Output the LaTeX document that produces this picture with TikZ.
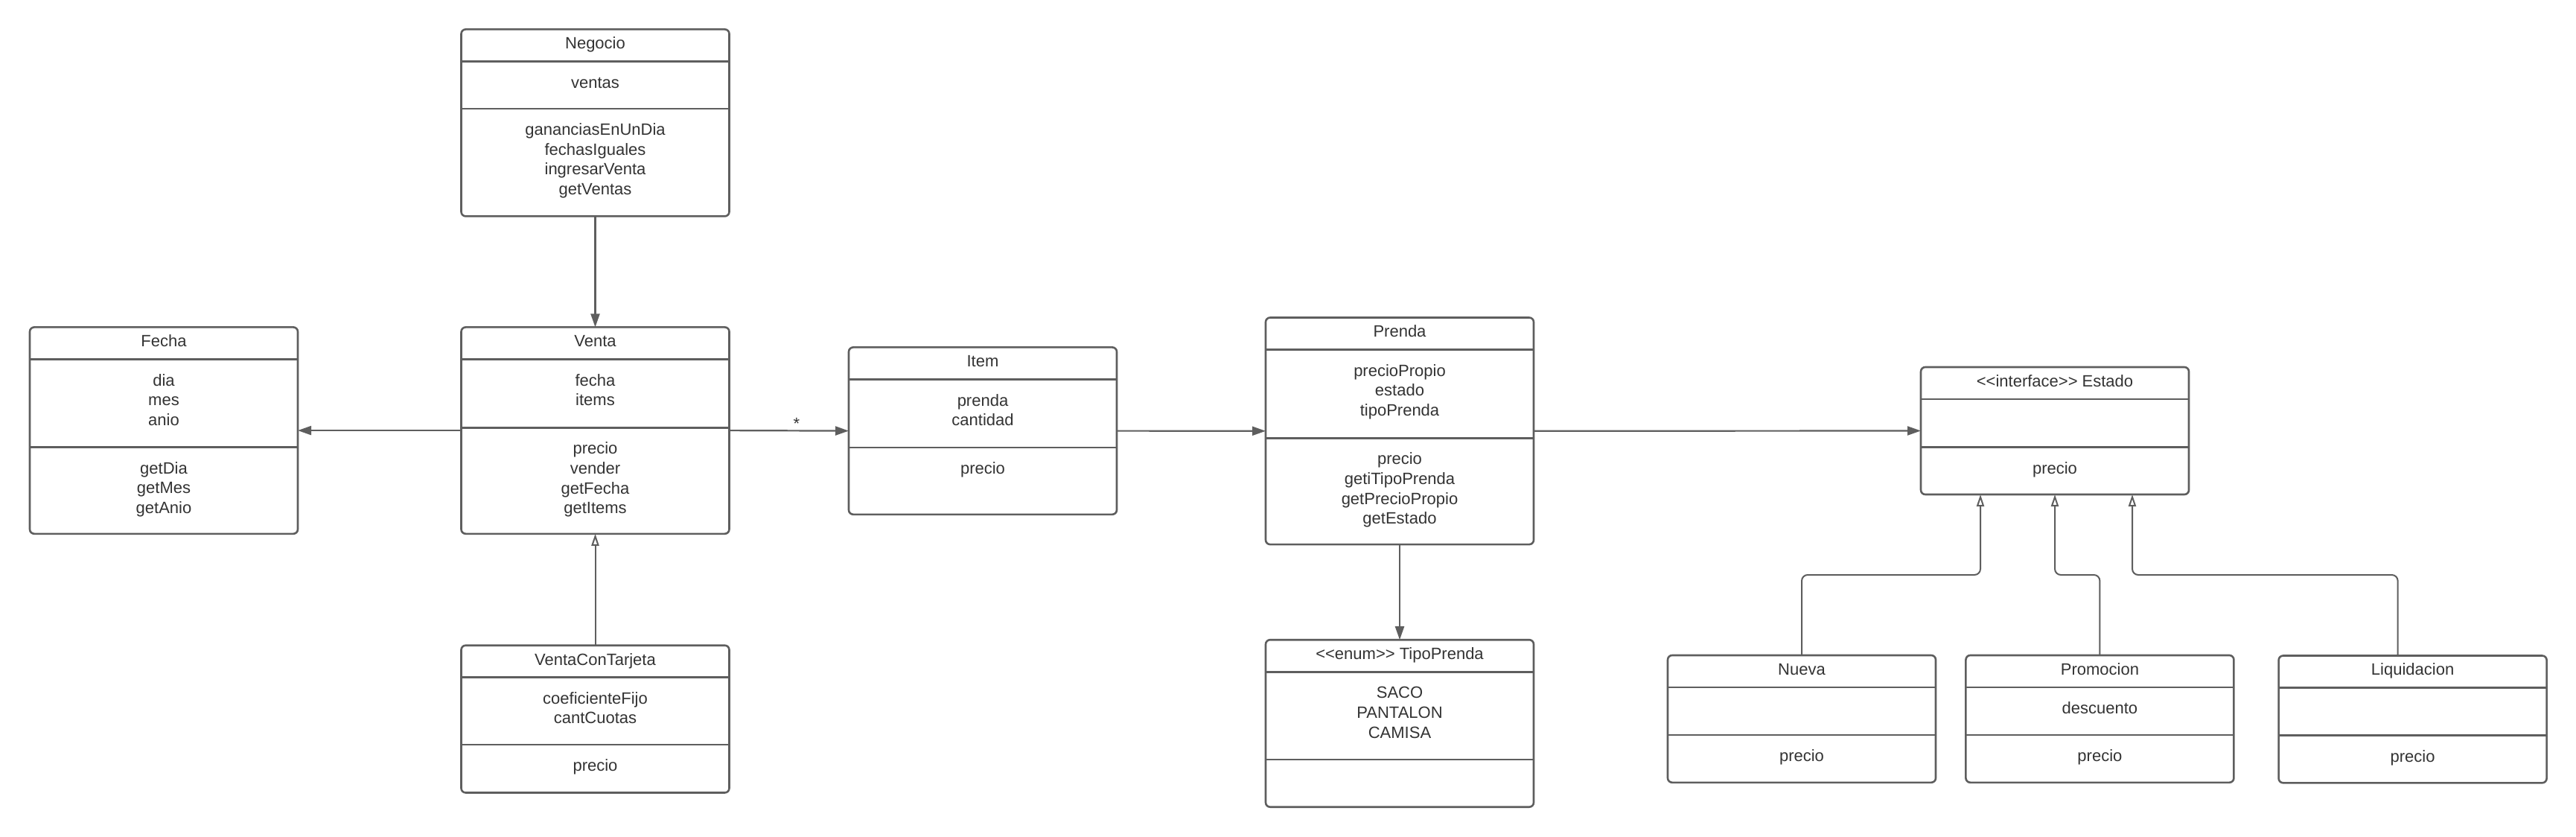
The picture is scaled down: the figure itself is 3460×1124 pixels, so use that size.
\documentclass[tikz,border=0pt]{standalone}
\usepackage{fontspec}
\setmainfont{Liberation Sans}
\usetikzlibrary{arrows.meta}
\definecolor{linegray}{HTML}{5E5E5E}
\definecolor{textgray}{HTML}{333333}
\tikzset{
classbox/.style={
	draw=linegray, line width=1.3pt, rounded corners=3pt,
	minimum width=180pt, outer sep=0pt, inner sep=0pt},
classline/.style={draw=linegray, line width=1.3pt},
classtext/.style={
	text=textgray, align=center, inner sep=0pt,
	font=\fontsize{11}{13.3}\selectfont},
assoc/.style={draw=linegray, line width=1.1pt,
	-{Triangle[length=9pt,width=6pt]}},
realize/.style={draw=linegray, line width=1pt, rounded corners=4pt,
	-{Triangle[open,length=8pt,width=5pt,fill=white]}}
}
% name, left, top, attribute height, total height, title, attributes, operations
\newcommand{\umlclass}[8]{%
	\node[classbox, minimum height=#5*0.5pt, anchor=north west] (#1) at (#2,-#3) {};
	\draw[classline] ([yshift=-21.5pt]#1.north west) -- ([yshift=-21.5pt]#1.north east);
	\draw[classline] ([yshift=-21.5pt-#4*0.5pt]#1.north west) -- ([yshift=-21.5pt-#4*0.5pt]#1.north east);
	\node[classtext, anchor=base] (#1-title) at ([yshift=-13.2pt]#1.north) {#6};
	\node[classtext, anchor=north] (#1-attrs) at ([yshift=-29.8pt]#1.north) {\strut#7};
	\node[classtext, anchor=north] (#1-ops) at ([yshift=-29.8pt-#4*0.5pt]#1.north) {\strut#8};
}
\newcommand{\guil}[1]{<\kern0pt<#1>\kern0pt>}

\begin{document}
\begin{tikzpicture}[x=0.5pt, y=0.5pt]
	\path[fill=white, use as bounding box] (0,0) rectangle (3460,-1124);

	\umlclass{negocio}{619.5}{39.4}{63.6}{251}{Negocio}{ventas}
		{gananciasEnUnDia\\fechasIguales\\ingresarVenta\\getVentas}
	\umlclass{fecha}{40}{439.4}{118.3}{277.4}{Fecha}{dia\\mes\\anio}
		{getDia\\getMes\\getAnio}
	\umlclass{venta}{619.5}{439.4}{91.8}{277.4}{Venta}{fecha\\items}
		{precio\\vender\\getFecha\\getItems}
	\umlclass{tarjeta}{619.5}{866.7}{90.3}{197.8}{VentaConTarjeta}
		{coeficienteFijo\\cantCuotas}{precio}
	\umlclass{item}{1140}{466.4}{91.6}{224.4}{Item}{prenda\\cantidad}{precio}
	\umlclass{prenda}{1700}{426.5}{118.7}{304.6}{Prenda}
		{precioPropio\\estado\\tipoPrenda}
		{precio\\getiTipoPrenda\\getPrecioPropio\\getEstado}
	\umlclass{tipo}{1700}{859.2}{117.6}{224.5}{\guil{enum} TipoPrenda}
		{SACO\\PANTALON\\CAMISA}{}
	\umlclass{estado}{2580}{493}{64.4}{171}{\guil{interface} Estado}{}{precio}
	\umlclass{nueva}{2240}{880}{64}{170.8}{Nueva}{}{precio}
	\umlclass{promo}{2640.4}{880}{64}{170.8}{Promocion}{descuento}{precio}
	\umlclass{liquida}{3060.6}{880.5}{64}{170.8}{Liquidacion}{}{precio}

	% associations
	\draw[assoc] (negocio.south) -- (venta.north);
	\draw[assoc] (venta.west) -- (fecha.east);
	\draw[assoc] (venta.east) -- node[classtext, pos=0.5625, anchor=base, yshift=1pt] (mult) {*} (item.west);
	\draw[assoc] (item.east) -- (prenda.west);
	\draw[assoc] (prenda.east) -- (estado.west);
	\draw[assoc] (prenda.south) -- (tipo.north);

	% inheritance
	\draw[realize] (tarjeta.north) -- (venta.south);
	\coordinate (nuevaEnd) at ([xshift=-50pt]estado.south);
	\coordinate (promoEnd) at (estado.south);
	\coordinate (liquidaEnd) at ([xshift=52pt]estado.south);
	\draw[realize] (nueva.north) |- ([yshift=-54pt]nuevaEnd) -- (nuevaEnd);
	\draw[realize] (promo.north) |- ([yshift=-54pt]promoEnd) -- (promoEnd);
	\draw[realize] ([xshift=-10pt]liquida.north) |- ([yshift=-54pt]liquidaEnd) -- (liquidaEnd);
\end{tikzpicture}
\end{document}
